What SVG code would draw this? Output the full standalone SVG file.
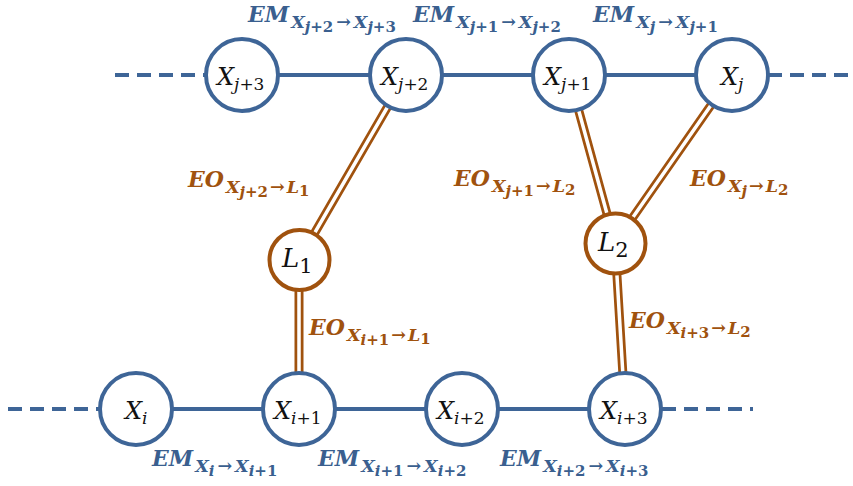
<svg xmlns="http://www.w3.org/2000/svg" width="853" height="486" viewBox="0 0 853 486">
<style>
.bl{stroke:#3e6597;stroke-width:4;fill:none}
.dash{stroke:#3e6597;stroke-width:4;fill:none;stroke-dasharray:14 8}
.nd{fill:#fff;stroke:#3e6597;stroke-width:4}
.ln{fill:#fff;stroke:#a0520e;stroke-width:4}
.dbo{stroke:#a0520e;stroke-width:9;fill:none}
.dbi{stroke:#fff;stroke-width:3.5;fill:none}
.nt{font-family:"DejaVu Serif",serif;font-style:italic;fill:#111}
.em{font-family:"DejaVu Serif",serif;font-style:italic;font-weight:bold;fill:#3a5f8f}
.eo{font-family:"DejaVu Serif",serif;font-style:italic;font-weight:bold;fill:#a0520e}
.up{font-style:normal}
.s{font-size:17.5px}
.ss{font-size:15px}
</style>
<g id="connectors">
<line class="dash" x1="115" y1="75" x2="205" y2="75"/>
<line class="bl" x1="242" y1="75" x2="732" y2="75"/>
<line class="dash" x1="768" y1="75" x2="853" y2="75"/>
<line class="dash" x1="8" y1="409" x2="100" y2="409"/>
<line class="bl" x1="136" y1="409" x2="625" y2="409"/>
<line class="dash" x1="662" y1="409" x2="753" y2="409"/>
<path class="dbo" d="M406,75 L299,260 M299,260 L299,409 M569,75 L615,243 M732,75 L615,243 M615,243 L625,409"/>
<path class="dbi" d="M406,75 L299,260 M299,260 L299,409 M569,75 L615,243 M732,75 L615,243 M615,243 L625,409"/>
</g>
<g id="n-xj3"><circle class="nd" cx="242" cy="75" r="36"/><text class="nt" x="217" y="85" font-size="24">X<tspan font-size="17" dy="5">j<tspan class="up">+3</tspan></tspan></text></g>
<g id="n-xj2"><circle class="nd" cx="406" cy="75" r="36"/><text class="nt" x="381" y="85" font-size="24">X<tspan font-size="17" dy="5">j<tspan class="up">+2</tspan></tspan></text></g>
<g id="n-xj1"><circle class="nd" cx="569" cy="75" r="36"/><text class="nt" x="544" y="85" font-size="24">X<tspan font-size="17" dy="5">j<tspan class="up">+1</tspan></tspan></text></g>
<g id="n-xj"><circle class="nd" cx="732" cy="75" r="36"/><text class="nt" x="721" y="85" font-size="24">X<tspan font-size="17" dy="5">j</tspan></text></g>
<g id="n-xi"><circle class="nd" cx="136" cy="409" r="36"/><text class="nt" x="125" y="419" font-size="24">X<tspan font-size="17" dy="5">i</tspan></text></g>
<g id="n-xi1"><circle class="nd" cx="299" cy="409" r="36"/><text class="nt" x="274" y="419" font-size="24">X<tspan font-size="17" dy="5">i<tspan class="up">+1</tspan></tspan></text></g>
<g id="n-xi2"><circle class="nd" cx="462" cy="409" r="36"/><text class="nt" x="437" y="419" font-size="24">X<tspan font-size="17" dy="5">i<tspan class="up">+2</tspan></tspan></text></g>
<g id="n-xi3"><circle class="nd" cx="625" cy="409" r="36"/><text class="nt" x="600" y="419" font-size="24">X<tspan font-size="17" dy="5">i<tspan class="up">+3</tspan></tspan></text></g>
<g id="n-l1"><circle class="ln" cx="299.5" cy="260" r="30"/><text class="nt" x="282" y="267" font-size="26">L<tspan class="up" font-size="21" dy="6">1</tspan></text></g>
<g id="n-l2"><circle class="ln" cx="615.5" cy="243.5" r="30"/><text class="nt" x="598" y="251" font-size="26">L<tspan class="up" font-size="21" dy="6">2</tspan></text></g>
<g id="labels">
<text class="em" x="248" y="22" font-size="22">EM<tspan class="s" dx="2" dy="6">X</tspan><tspan class="ss" dy="4">j<tspan class="up">+2</tspan></tspan><tspan class="s" dx="3" dy="-4">→</tspan><tspan class="s" dx="3">X</tspan><tspan class="ss" dy="4">j<tspan class="up">+3</tspan></tspan></text>
<text class="em" x="413" y="22" font-size="22">EM<tspan class="s" dx="2" dy="6">X</tspan><tspan class="ss" dy="4">j<tspan class="up">+1</tspan></tspan><tspan class="s" dx="3" dy="-4">→</tspan><tspan class="s" dx="3">X</tspan><tspan class="ss" dy="4">j<tspan class="up">+2</tspan></tspan></text>
<text class="em" x="593" y="22" font-size="22">EM<tspan class="s" dx="2" dy="6">X</tspan><tspan class="ss" dy="4">j</tspan><tspan class="s" dx="3" dy="-4">→</tspan><tspan class="s" dx="3">X</tspan><tspan class="ss" dy="4">j<tspan class="up">+1</tspan></tspan></text>
<text class="em" x="152" y="466" font-size="22">EM<tspan class="s" dx="2" dy="6">X</tspan><tspan class="ss" dy="4">i</tspan><tspan class="s" dx="3" dy="-4">→</tspan><tspan class="s" dx="3">X</tspan><tspan class="ss" dy="4">i<tspan class="up">+1</tspan></tspan></text>
<text class="em" x="318" y="466" font-size="22">EM<tspan class="s" dx="2" dy="6">X</tspan><tspan class="ss" dy="4">i<tspan class="up">+1</tspan></tspan><tspan class="s" dx="3" dy="-4">→</tspan><tspan class="s" dx="3">X</tspan><tspan class="ss" dy="4">i<tspan class="up">+2</tspan></tspan></text>
<text class="em" x="500" y="466" font-size="22">EM<tspan class="s" dx="2" dy="6">X</tspan><tspan class="ss" dy="4">i<tspan class="up">+2</tspan></tspan><tspan class="s" dx="3" dy="-4">→</tspan><tspan class="s" dx="3">X</tspan><tspan class="ss" dy="4">i<tspan class="up">+3</tspan></tspan></text>
<text class="eo" x="188" y="187" font-size="22">EO<tspan class="s" dx="2" dy="6">X</tspan><tspan class="ss" dy="4">j<tspan class="up">+2</tspan></tspan><tspan class="s" dx="2" dy="-4">→</tspan><tspan class="s" dx="2">L</tspan><tspan class="up ss" dy="3">1</tspan></text>
<text class="eo" x="309" y="335" font-size="22">EO<tspan class="s" dx="2" dy="6">X</tspan><tspan class="ss" dy="4">i<tspan class="up">+1</tspan></tspan><tspan class="s" dx="2" dy="-4">→</tspan><tspan class="s" dx="2">L</tspan><tspan class="up ss" dy="3">1</tspan></text>
<text class="eo" x="454" y="186" font-size="22">EO<tspan class="s" dx="2" dy="6">X</tspan><tspan class="ss" dy="4">j<tspan class="up">+1</tspan></tspan><tspan class="s" dx="2" dy="-4">→</tspan><tspan class="s" dx="2">L</tspan><tspan class="up ss" dy="3">2</tspan></text>
<text class="eo" x="690" y="186" font-size="22">EO<tspan class="s" dx="2" dy="6">X</tspan><tspan class="ss" dy="4">j</tspan><tspan class="s" dx="2" dy="-4">→</tspan><tspan class="s" dx="2">L</tspan><tspan class="up ss" dy="3">2</tspan></text>
<text class="eo" x="629" y="328" font-size="22">EO<tspan class="s" dx="2" dy="6">X</tspan><tspan class="ss" dy="4">i<tspan class="up">+3</tspan></tspan><tspan class="s" dx="2" dy="-4">→</tspan><tspan class="s" dx="2">L</tspan><tspan class="up ss" dy="3">2</tspan></text>
</g>
</svg>
